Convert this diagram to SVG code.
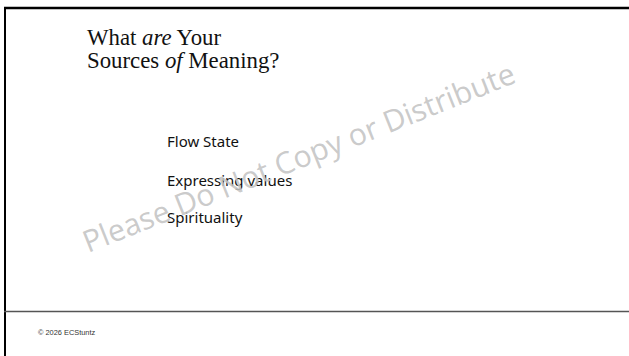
<svg xmlns="http://www.w3.org/2000/svg" width="629" height="356" viewBox="0 0 629 356">
<style>
.title{font-family:"Liberation Serif","Times New Roman",serif;font-size:22.8px;fill:#111}
.item{font-family:"Noto Sans","Liberation Sans",sans-serif;font-size:15px;fill:#111}
.foot{font-family:"Liberation Sans",Arial,sans-serif;font-size:7.4px;fill:#333}
.wm{font-family:"Open Sans","Liberation Sans",sans-serif;font-size:30.2px;fill:#c4c4c4;fill-opacity:0.9}
</style>
<rect width="629" height="356" fill="#ffffff"/>
<g id="frame">
<line x1="4" y1="8" x2="629" y2="8" stroke="#000" stroke-width="2.5"/>
<line x1="5" y1="7" x2="5" y2="356" stroke="#000" stroke-width="2"/>
<line x1="4" y1="311.5" x2="629" y2="311.5" stroke="#555" stroke-width="1.3"/>
</g>
<g id="title">
<text class="title" x="87" y="45">What <tspan font-style="italic">are</tspan> Your</text>
<text class="title" x="87" y="68">Sources <tspan font-style="italic">of</tspan> Meaning?</text>
</g>
<g id="items">
<text class="item" x="167" y="147">Flow State</text>
<text class="item" x="167" y="186">Expressing values</text>
<text class="item" x="167" y="223">Spirituality</text>
</g>
<g id="watermark">
<text class="wm" x="88" y="253" transform="rotate(-21.7 88 253)">Please Do Not Copy or Distribute</text>
</g>
<g id="footer">
<text class="foot" x="38" y="335">© 2026 ECStuntz</text>
</g>
</svg>
